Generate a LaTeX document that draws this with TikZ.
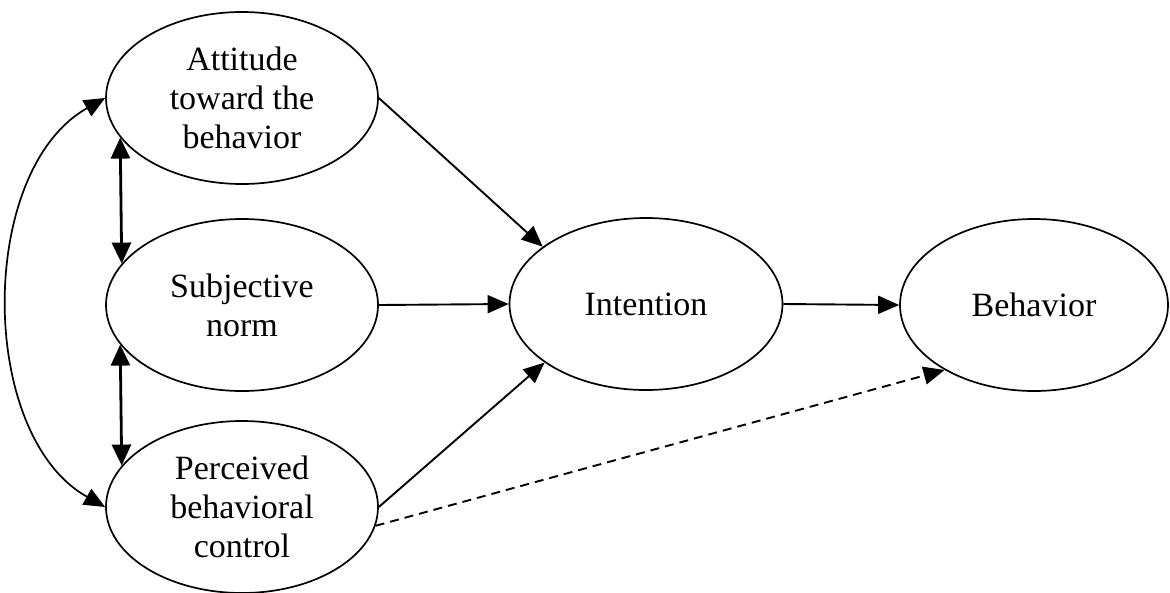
\documentclass[tikz,border=0pt]{standalone}
\usepackage{fontspec}
\setmainfont{Liberation Serif}
\usetikzlibrary{shapes.geometric,arrows.meta}

\tikzset{
  construct/.style={draw, ellipse, line width=1.7pt, inner sep=0pt,
    minimum width=272pt, minimum height=172pt, align=center,
    font=\fontsize{34}{39}\selectfont},
  path/.style={line width=1.9pt, -{Triangle[length=21pt,width=18pt]}},
  pair/.style={line width=2.8pt, {Triangle[length=21pt,width=19pt]}-{Triangle[length=21pt,width=19pt]}},
  corr/.style={line width=1.7pt, {Triangle[length=21pt,width=18pt]}-{Triangle[length=21pt,width=18pt]}},
}

\begin{document}
\begin{tikzpicture}[x=1pt,y=1pt]
  \useasboundingbox (0,0) rectangle (1170,-592);

  % predictors
  \node[construct] (att)  at (242,-98)  {Attitude\\toward the\\behavior};
  \node[construct] (norm) at (242,-305) {Subjective\\norm};
  \node[construct] (pbc)  at (242,-507) {Perceived\\behavioral\\control};

  % outcomes
  \node[construct, minimum width=273pt] (int) at (646,-304) {Intention};
  \node[construct, minimum width=268pt] (beh) at (1034,-305) {Behavior};

  % correlations among the predictors
  \draw[pair] (att.198.6) -- (norm.161.4);
  \draw[pair] (norm.198.6) -- (pbc.161.4);
  \draw[corr] (att.west) .. controls +(-128,-72) and +(-128,72) .. (pbc.west);

  % paths
  \draw[path] (att.east) -- (int.151);
  \draw[path] (norm.east) -- (int.west);
  \draw[path] (pbc.east) -- (int.210);
  \draw[path] (int.east) -- (beh.west);
  \draw[path, dash pattern=on 9pt off 6pt] (pbc.-8) -- (beh.216);
\end{tikzpicture}
\end{document}
